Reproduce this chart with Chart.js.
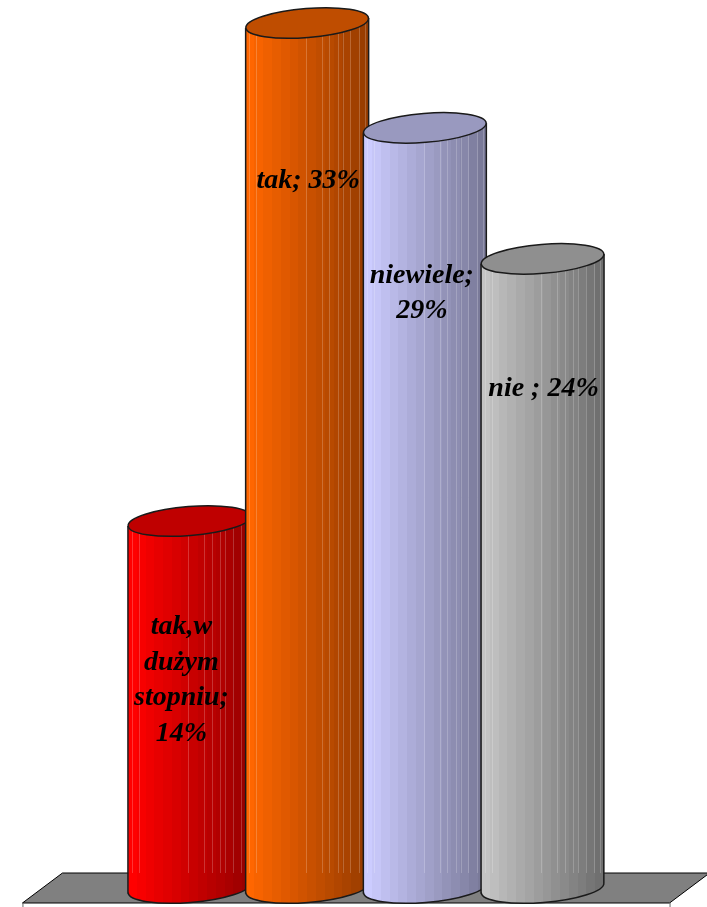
<!DOCTYPE html>
<html lang="pl">
<head>
<meta charset="utf-8">
<title>Wykres</title>
<script src="https://cdn.jsdelivr.net/npm/chart.js@4/dist/chart.umd.min.js"></script>
<style>
    html, body { margin: 0; padding: 0; background: #fff; }
    canvas { display: block; }
</style>
</head>
<body>
<canvas id="cylinderChart" width="707" height="907"></canvas>
<script>
// ===========================
// Dane
// ===========================
const categories = ["tak,w dużym stopniu", "tak", "niewiele", "nie"];
const values = [14, 33, 29, 24];
const labelLines = [
    ["tak,w", "dużym", "stopniu;", "14%"],
    ["tak; 33%"],
    ["niewiele;", "29%"],
    ["nie ; 24%"]
];

// ===========================
// Style
// ===========================
const lightColors = ["#ff0000", "#ff6600", "#ccccff", "#c4c4c4"];
const darkColors = ["#990000", "#993d00", "#7a7a99", "#707070"];
const topColors = ["#bf0000", "#bf4d00", "#9999bf", "#8f8f8f"];
const streaks = [0.03, 0.086, 0.49, 0.62, 0.68, 0.75, 0.79, 0.85, 0.92, 0.97];
const firstBaseline = [113, 165, 155, 137]; // od góry słupka do pierwszej linii
const labelShift = [-8, 1, -3, 1];
const lineStep = 35.5;
const ellipseRy = 14.5;
const ellipseTilt = -0.08;

function shade(light, dark, t) {
    const a = parseInt(light.slice(1), 16);
    const b = parseInt(dark.slice(1), 16);
    const mix = function (shift) {
        const ca = (a >> shift) & 255;
        const cb = (b >> shift) & 255;
        return Math.round(ca + (cb - ca) * t);
    };
    return "rgb(" + mix(16) + "," + mix(8) + "," + mix(0) + ")";
}

const cylinders = {
    id: "cylinders",
    beforeDatasetsDraw(chart) {
        const { ctx } = chart;
        const base = chart.scales.y.getPixelForValue(0);
        const bars = chart.getDatasetMeta(0).data;

        // podloga
        const left = bars[0].x - 167;
        const right = bars[3].x + 127;
        const back = base - 15;
        const front = base + 15;
        ctx.save();
        ctx.beginPath();
        ctx.moveTo(left, front);
        ctx.lineTo(left + 40, back);
        ctx.lineTo(right + 40, back);
        ctx.lineTo(right, front);
        ctx.closePath();
        ctx.fillStyle = "#808080";
        ctx.fill();
        ctx.strokeStyle = "#000";
        ctx.lineWidth = 1;
        ctx.stroke();
        ctx.beginPath();
        ctx.moveTo(left + 0.5, front);
        ctx.lineTo(left + 0.5, front + 4);
        ctx.moveTo(right + 0.5, front);
        ctx.lineTo(right + 0.5, front + 4);
        ctx.strokeStyle = "#666";
        ctx.stroke();
        ctx.restore();

        bars.forEach(function (bar, i) {
            const rx = bar.width / 2;
            const x0 = bar.x - rx;
            const x1 = bar.x + rx;
            const dy = Math.sin(ellipseTilt) * rx;

            // bok walca
            ctx.save();
            ctx.beginPath();
            ctx.moveTo(x0, bar.y - dy);
            ctx.lineTo(x1, bar.y + dy);
            ctx.lineTo(x1, base + dy);
            ctx.ellipse(bar.x, base, rx, ellipseRy, ellipseTilt, 0, Math.PI);
            ctx.closePath();
            const grad = ctx.createLinearGradient(x0, 0, x1, 0);
            const steps = 14;
            for (let s = 0; s < steps; s++) {
                const c = shade(lightColors[i], darkColors[i], s / (steps - 1));
                grad.addColorStop(s / steps, c);
                grad.addColorStop((s + 1) / steps, c);
            }
            ctx.fillStyle = grad;
            ctx.fill();
            ctx.clip();

            // jasne paski
            ctx.strokeStyle = "rgba(255,255,255,0.2)";
            ctx.lineWidth = 1;
            streaks.forEach(function (f) {
                const sx = Math.round(x0 + f * bar.width) + 0.5;
                ctx.beginPath();
                ctx.moveTo(sx, bar.y - 20);
                ctx.lineTo(sx, base - 15);
                ctx.stroke();
            });
            ctx.restore();

            // obrys
            ctx.strokeStyle = "#1a1a1a";
            ctx.lineWidth = 1.5;
            ctx.beginPath();
            ctx.moveTo(x0, bar.y - dy);
            ctx.lineTo(x0, base - dy);
            ctx.ellipse(bar.x, base, rx, ellipseRy, ellipseTilt, Math.PI, 0, true);
            ctx.lineTo(x1, bar.y + dy);
            ctx.stroke();

            // gorna elipsa
            ctx.beginPath();
            ctx.ellipse(bar.x, bar.y, rx, ellipseRy, ellipseTilt, 0, Math.PI * 2);
            ctx.fillStyle = topColors[i];
            ctx.fill();
            ctx.stroke();
        });
    },
    afterDatasetsDraw(chart) {
        const { ctx } = chart;
        const bars = chart.getDatasetMeta(0).data;
        ctx.save();
        ctx.font = "italic bold 28px 'Liberation Serif'";
        ctx.textAlign = "center";
        ctx.textBaseline = "alphabetic";
        ctx.fillStyle = "#000";
        bars.forEach(function (bar, i) {
            labelLines[i].forEach(function (line, n) {
                ctx.fillText(line, bar.x + labelShift[i], bar.y + firstBaseline[i] + n * lineStep);
            });
        });
        ctx.restore();
    }
};

// ===========================
// Wykres
// ===========================
document.addEventListener("DOMContentLoaded", function () {
    const canvas = document.getElementById("cylinderChart");
    const ctx = canvas.getContext("2d");

    new Chart(ctx, {
        type: "bar",
        data: {
            labels: categories,
            datasets: [{
                data: values,
                backgroundColor: "transparent",
                borderWidth: 0,
                barThickness: 123
            }]
        },
        options: {
            responsive: false,
            animation: false,
            layout: { padding: { left: 130.6, right: 105.6, top: 23, bottom: 19 } },
            scales: {
                x: { display: false },
                y: { display: false, min: 0, max: 33 }
            },
            plugins: {
                legend: { display: false },
                tooltip: { enabled: false }
            }
        },
        plugins: [cylinders]
    });
});
</script>
</body>
</html>
